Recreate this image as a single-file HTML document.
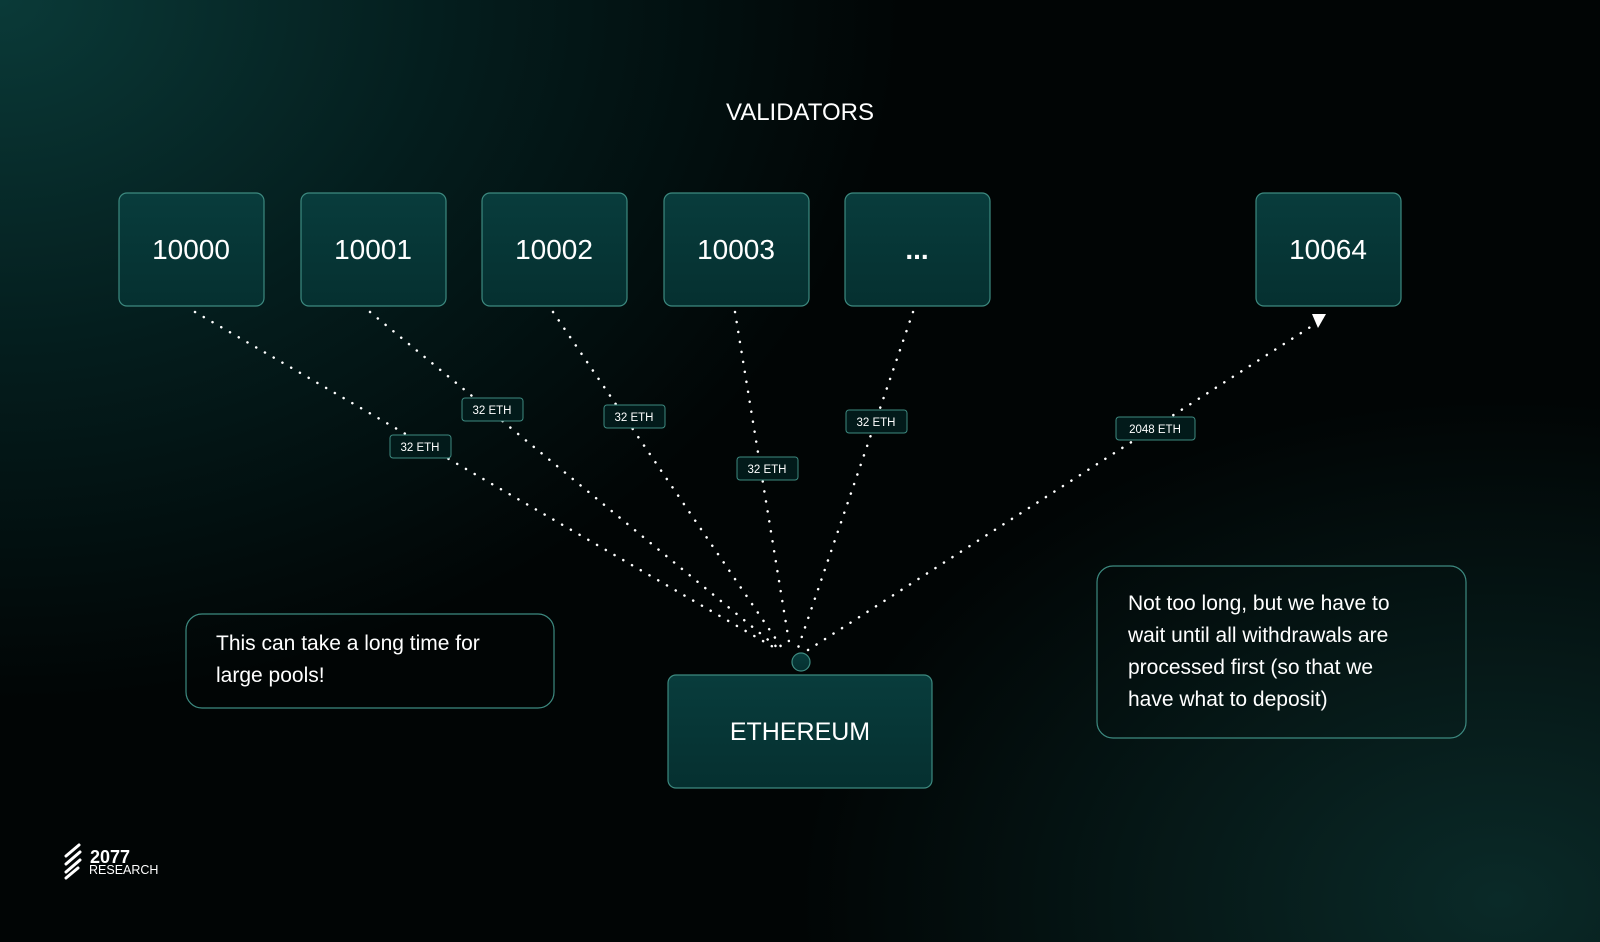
<!DOCTYPE html>
<html><head><style>
body{margin:0;width:1600px;height:942px;overflow:hidden;font-family:"Liberation Sans",sans-serif;}
.bg{position:absolute;inset:0;background:radial-gradient(ellipse 900px 700px at 0px 0px,#0a3a38 0%,#041d1d 50%,rgba(0,0,0,0) 100%),radial-gradient(ellipse 700px 500px at 1500px 900px,#0a2a28 0%,rgba(0,0,0,0) 100%),#010505;}
</style></head><body>
<div class="bg"></div>
<svg width="1600" height="942" style="position:absolute;left:0;top:0" font-family="Liberation Sans, sans-serif">
<defs><linearGradient id="bx" x1="0" y1="0" x2="0" y2="1"><stop offset="0" stop-color="#083c3c"/><stop offset="1" stop-color="#053030"/></linearGradient></defs>
<text x="800" y="120" fill="#fff" font-size="24" text-anchor="middle">VALIDATORS</text>
<g stroke="#fff" stroke-width="2.5" stroke-dasharray="0.1 10" stroke-linecap="round" fill="none">
<line x1="195" y1="312" x2="775" y2="648"/>
<line x1="370" y1="312" x2="778" y2="648"/>
<line x1="553" y1="312" x2="782" y2="648"/>
<line x1="735" y1="312" x2="790" y2="648"/>
<line x1="913" y1="312" x2="798" y2="648"/>
<line x1="808" y1="650" x2="1315" y2="324"/>
</g>
<polygon points="1312,314 1326,314 1318,328" fill="#fff"/>
<g fill="url(#bx)" stroke="#3d8a80" stroke-width="1.2">
<rect x="119" y="193" width="145" height="113" rx="8"/>
<rect x="301" y="193" width="145" height="113" rx="8"/>
<rect x="482" y="193" width="145" height="113" rx="8"/>
<rect x="664" y="193" width="145" height="113" rx="8"/>
<rect x="845" y="193" width="145" height="113" rx="8"/>
<rect x="1256" y="193" width="145" height="113" rx="8"/>
<rect x="668" y="675" width="264" height="113" rx="8"/>
<circle cx="801" cy="662" r="9"/>
</g>
<g fill="#fff" font-size="28" text-anchor="middle">
<text x="191" y="259">10000</text><text x="373" y="259">10001</text><text x="554" y="259">10002</text><text x="736" y="259">10003</text><text x="917" y="259" font-weight="bold">...</text><text x="1328" y="259">10064</text>
</g>
<text x="800" y="740" fill="#fff" font-size="25" text-anchor="middle">ETHEREUM</text>
<g fill="#021a1a" stroke="#3d8a80" stroke-width="1">
<rect x="390" y="435" width="61" height="23" rx="3"/>
<rect x="462" y="398" width="61" height="23" rx="3"/>
<rect x="604" y="405" width="61" height="23" rx="3"/>
<rect x="737" y="457" width="61" height="23" rx="3"/>
<rect x="846" y="410" width="61" height="23" rx="3"/>
<rect x="1116" y="417" width="79" height="23" rx="3"/>
</g>
<g fill="#fff" font-size="11.5" text-anchor="middle">
<text x="420" y="451">32 ETH</text><text x="492" y="414">32 ETH</text><text x="634" y="421">32 ETH</text><text x="767" y="473">32 ETH</text><text x="876" y="426">32 ETH</text><text x="1155" y="433">2048 ETH</text>
</g>
<g fill="none" stroke="#3d8a80" stroke-width="1.2">
<rect x="186" y="614" width="368" height="94" rx="16"/>
<rect x="1097" y="566" width="369" height="172" rx="16"/>
</g>
<g fill="#fff" font-size="21">
<text x="216" y="650">This can take a long time for</text><text x="216" y="682">large pools!</text>
<text x="1128" y="610">Not too long, but we have to</text><text x="1128" y="642">wait until all withdrawals are</text><text x="1128" y="674">processed first (so that we</text><text x="1128" y="706">have what to deposit)</text>
</g>
<g stroke="#fff" stroke-width="3" stroke-linecap="round">
<line x1="66" y1="856" x2="79" y2="845"/><line x1="66" y1="864" x2="80" y2="852"/><line x1="66" y1="872" x2="80" y2="860"/><line x1="66" y1="878" x2="78" y2="868"/>
</g>
<text x="90" y="863" fill="#fff" font-size="18" font-weight="bold">2077</text>
<text x="89" y="874" fill="#fff" font-size="12.5">RESEARCH</text>
</svg>
</body></html>
